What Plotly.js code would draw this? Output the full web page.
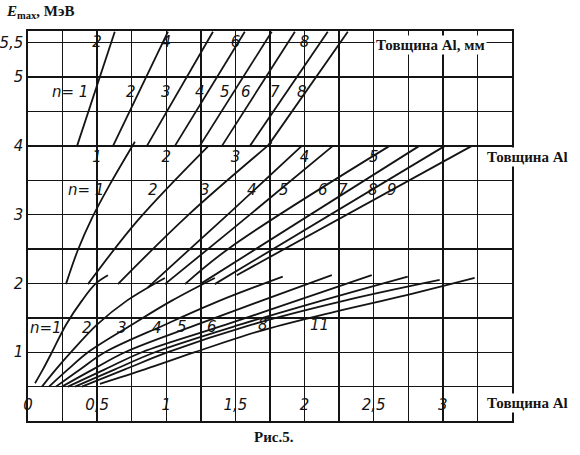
<!DOCTYPE html>
<html><head><meta charset="utf-8">
<script src="https://cdn.plot.ly/plotly-3.0.1.min.js"></script>
<style>html,body{margin:0;padding:0;background:#fff}</style>
</head><body><div id="chart" style="width:580px;height:455px"></div>
<script>
// ---- bottom band: E 0.5..2 MeV, thickness scale 0..3.5 mm ----
const lowN = [1, 2, 3, 4, 5, 6, 7, 8, 11];
const lowD = [
  [0.051, 0.108, 0.173, 0.275, 0.390, 0.491, 0.578],
  [0.101, 0.202, 0.311, 0.499, 0.715, 0.990],
  [0.152, 0.289, 0.434, 0.751, 1.040, 1.351],
  [0.202, 0.376, 0.556, 0.990, 1.387, 1.842],
  [0.246, 0.470, 0.701, 1.221, 1.691, 2.197],
  [0.289, 0.556, 0.824, 1.431, 1.944, 2.486],
  [0.340, 0.629, 0.918, 1.532, 2.124, 2.746],
  [0.390, 0.701, 1.012, 1.618, 2.290, 2.977],
  [0.520, 0.845, 1.207, 1.662, 2.182, 2.738, 3.230]
];
const lowE = [
  [0.55, 0.75, 1.0, 1.4, 1.75, 2.0, 2.12],
  [0.5, 0.75, 1.0, 1.4, 1.75, 2.08],
  [0.5, 0.75, 1.0, 1.4, 1.75, 2.08],
  [0.5, 0.75, 1.0, 1.4, 1.75, 2.1],
  [0.5, 0.75, 1.0, 1.4, 1.75, 2.12],
  [0.5, 0.75, 1.0, 1.4, 1.75, 2.12],
  [0.5, 0.75, 1.0, 1.4, 1.75, 2.1],
  [0.5, 0.75, 1.0, 1.4, 1.75, 2.05],
  [0.54, 0.75, 1.0, 1.3, 1.57, 1.83, 2.08]
];
const lowTicks = [0, 0.5, 1, 1.5, 2, 2.5, 3];
const lowTickText = ['0', '0,5', '1', '1,5', '2', '2,5', '3'];
const lowLabelText = ['n=1', '2', '3', '4', '5', '6', '8', '11'];
const lowLabelD = [0.13, 0.43, 0.68, 0.93, 1.11, 1.33, 1.70, 2.11];
const lowLabelE = [1.35, 1.35, 1.35, 1.35, 1.36, 1.36, 1.40, 1.40];

// ---- middle band: E 2..4 MeV, thickness scale 0..7 mm ----
const midN = [1, 2, 3, 4, 5, 6, 7, 8, 9];
const midD = [
  [0.549, 0.723, 0.925, 1.185, 1.546],
  [0.867, 1.590, 2.601],
  [1.300, 2.312, 3.526],
  [1.73, 2.92, 3.96],
  [1.98, 2.92, 4.41],
  [2.27, 2.92, 5.23],
  [2.49, 5.66],
  [2.70, 6.03],
  [3.02, 6.42]
];
const midE = [
  [1.99, 2.49, 2.95, 3.44, 4.06],
  [1.99, 2.92, 3.99],
  [1.99, 2.99, 4.05],
  [1.94, 3.03, 4.0],
  [1.99, 2.76, 4.0],
  [1.99, 2.52, 4.0],
  [1.99, 4.0],
  [1.99, 4.0],
  [2.12, 4.0]
];
const midTicks = [1, 2, 3, 4, 5];
const midTickText = ['1', '2', '3', '4', '5'];
const midLabelText = ['n= 1', '2', '3', '4', '5', '6', '7', '8', '9'];
const midLabelD = [0.84, 1.81, 2.56, 3.24, 3.70, 4.26, 4.55, 4.99, 5.27];
const midLabelE = [3.36, 3.36, 3.36, 3.36, 3.36, 3.36, 3.36, 3.36, 3.36];

// ---- top band: E 4..5.7 MeV, thickness scale 0..14 mm ----
const topN = [1, 2, 3, 4, 5, 6, 7, 8];
const topD = [
  [1.42, 2.51], [2.46, 4.05], [3.44, 5.35], [4.25, 6.27],
  [4.97, 7.05], [5.61, 7.72], [6.42, 8.67], [6.94, 9.25]
];
const topE = [
  [4.0, 5.66], [4.0, 5.66], [4.0, 5.66], [4.0, 5.66],
  [4.0, 5.66], [4.0, 5.66], [4.0, 5.66], [4.0, 5.66]
];
const topTicks = [2, 4, 6, 8];
const topTickText = ['2', '4', '6', '8'];
const topLabelText = ['n= 1', '2', '3', '4', '5', '6', '7', '8'];
const topLabelD = [1.21, 2.98, 3.99, 4.97, 5.69, 6.30, 7.14, 7.92];
const topLabelE = [4.78, 4.78, 4.78, 4.78, 4.78, 4.78, 4.78, 4.78];

// ---- energy axis ----
const eTicks = [1, 2, 3, 4, 5, 5.5];
const eTickText = ['1', '2', '3', '4', '5', '5,5'];

const INK = '#141414';
const handFont = {family: 'DejaVu Sans', size: 15, color: INK, style: 'italic'};
const serifBold = {family: 'Liberation Serif', size: 15, color: INK};

const traces = [];
function addBand(D, E, xa) {
  for (let i = 0; i < D.length; i++) {
    traces.push({type: 'scatter', mode: 'lines', x: D[i], y: E[i], xaxis: xa, yaxis: 'y',
      line: {color: INK, width: 1.8, shape: 'spline', smoothing: 1}, hoverinfo: 'skip', showlegend: false});
  }
}
addBand(lowD, lowE, 'x');
addBand(midD, midE, 'x2');
addBand(topD, topE, 'x3');
traces.push({type: 'scatter', mode: 'lines', x: [], y: [], xaxis: 'x4', yaxis: 'y', showlegend: false});

const annotations = [];
function addLabels(txt, D, E, xr) {
  for (let i = 0; i < txt.length; i++) {
    annotations.push({xref: xr, yref: 'y', x: D[i], y: E[i], text: txt[i], showarrow: false,
      font: handFont, xanchor: 'center', yanchor: 'middle'});
  }
}
addLabels(lowLabelText, lowLabelD, lowLabelE, 'x');
addLabels(midLabelText, midLabelD, midLabelE, 'x2');
addLabels(topLabelText, topLabelD, topLabelE, 'x3');

annotations.push({xref: 'paper', yref: 'paper', x: -0.05, y: 1.049, xanchor: 'left', yanchor: 'middle',
  text: '<b><i>E</i><sub>max</sub>, МэВ</b>', showarrow: false, font: serifBold});
annotations.push({xref: 'paper', yref: 'paper', x: 0.508, y: -0.041, xanchor: 'center', yanchor: 'middle',
  text: '<b>Рис.5.</b>', showarrow: false, font: serifBold});
annotations.push({xref: 'paper', yref: 'paper', x: 0.8306, y: 0.964, xanchor: 'center', yanchor: 'middle',
  text: '<b>Товщина Al, мм</b>', showarrow: false, font: serifBold, bgcolor: '#fff'});
annotations.push({xref: 'paper', yref: 'paper', x: 1.031, y: 0.677, xanchor: 'center', yanchor: 'middle',
  text: '<b>Товщина Al</b>', showarrow: false, font: serifBold, bgcolor: '#fff'});
annotations.push({xref: 'paper', yref: 'paper', x: 1.031, y: 0.046, xanchor: 'center', yanchor: 'middle',
  text: '<b>Товщина Al</b>', showarrow: false, font: serifBold, bgcolor: '#fff'});

const gridStyle = {gridcolor: INK, gridwidth: 1.4};
const layout = {
  width: 580, height: 455,
  margin: {l: 28, r: 68, t: 31, b: 34},
  paper_bgcolor: '#fff', plot_bgcolor: '#fff',
  showlegend: false,
  xaxis: Object.assign({range: [0, 3.5], anchor: 'y', showline: true, mirror: true, linecolor: INK, linewidth: 1.6,
    ticks: '', showticklabels: false, tickvals: lowTicks, showgrid: true, zeroline: false,
    minor: {tickmode: 'linear', tick0: 0, dtick: 0.25, showgrid: true, gridcolor: INK, gridwidth: 1.4, ticks: ''}}, gridStyle),
  xaxis4: {range: [0, 3.5], overlaying: 'x', anchor: 'free', position: 0.07, side: 'bottom', showline: false,
    ticks: '', tickvals: lowTicks, ticktext: lowTickText, tickfont: handFont, showgrid: false, zeroline: false},
  xaxis2: {range: [0, 7], overlaying: 'x', anchor: 'free', position: 4 / 5.67, side: 'bottom', showline: false,
    ticks: '', tickvals: midTicks, ticktext: midTickText, tickfont: handFont, showgrid: false, zeroline: false},
  xaxis3: {range: [0, 14], overlaying: 'x', anchor: 'free', position: 1, side: 'bottom', showline: false,
    ticks: '', tickvals: topTicks, ticktext: topTickText, tickfont: handFont, showgrid: false, zeroline: false},
  yaxis: Object.assign({range: [0, 5.67], showline: true, mirror: true, linecolor: INK, linewidth: 1.6,
    ticks: '', tickvals: eTicks, ticktext: eTickText, tickfont: handFont, showgrid: true, zeroline: false,
    minor: {tickmode: 'linear', tick0: 0, dtick: 0.5, showgrid: true, gridcolor: INK, gridwidth: 1.4, ticks: ''}}, gridStyle),
  annotations: annotations
};
Plotly.newPlot('chart', traces, layout, {displayModeBar: false, staticPlot: true});
</script>
</body></html>
